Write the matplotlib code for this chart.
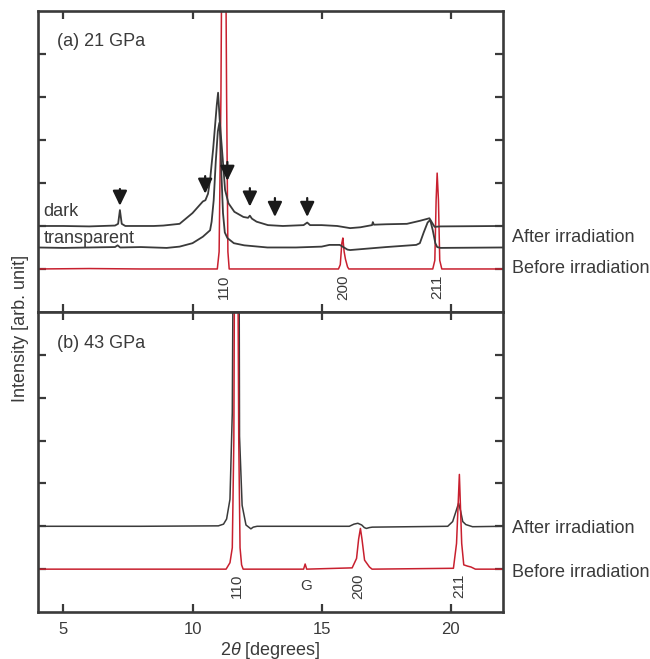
import matplotlib
matplotlib.use("Agg")
import matplotlib.pyplot as plt

plt.rcParams["font.family"] = ["Liberation Sans", "DejaVu Sans"]
plt.rcParams["mathtext.fontset"] = "custom"
plt.rcParams["mathtext.it"] = "Liberation Sans:italic"
plt.rcParams["mathtext.rm"] = "Liberation Sans"

INK = "#3a3a3a"
RED = "#c8202f"

# --- (a) 21 GPa: traces (2theta, offset intensity) ---
a_before_x = [4.0, 6.0, 8.0, 10.96, 11.03, 11.1, 11.14, 11.28, 11.32, 11.37, 11.42,
              15.65, 15.72, 15.78, 15.82, 15.87, 15.92, 16.0, 16.05,
              19.3, 19.38, 19.43, 19.47, 19.52, 19.57, 19.65, 22.0]
a_before_y = [0.0, 0.01, 0.0, 0.0, 0.4, 4.0, 8.0, 8.0, 4.0, 0.4, 0.0,
              0.0, 0.1, 0.6, 0.72, 0.4, 0.23, 0.05, 0.0,
              0.0, 0.2, 1.6, 2.23, 1.6, 0.2, 0.0, 0.0]

a_dark_x = [4.0, 5.0, 6.0, 7.0, 7.12, 7.19, 7.26, 7.4, 8.5, 8.87, 9.5, 10.0, 10.4,
            10.5, 10.6, 10.68, 10.8, 10.94, 10.99, 11.06, 11.17, 11.26, 11.39,
            11.62, 11.97, 12.15, 12.22, 12.3, 12.48, 12.92, 13.5, 14.3, 14.44,
            14.55, 15.0, 15.6, 16.1, 16.5, 16.95, 16.98, 17.02, 17.5, 18.3, 18.8,
            19.05, 19.17, 19.25, 19.37, 19.6, 22.0]
a_dark_y = [1.0, 1.0, 0.99, 1.01, 1.05, 1.37, 1.05, 1.0, 1.0, 1.01, 1.05, 1.3, 1.57,
            1.6, 1.75, 2.07, 2.8, 3.82, 4.1, 3.4, 2.56, 1.84, 1.53,
            1.33, 1.21, 1.19, 1.24, 1.17, 1.1, 1.02, 1.0, 1.02, 1.08,
            1.02, 1.02, 1.0, 0.95, 0.97, 1.02, 1.09, 1.03, 1.04, 1.05, 1.12,
            1.16, 1.18, 1.1, 0.98, 0.99, 1.0]

a_trans_x = [4.0, 5.0, 6.0, 7.0, 7.1, 7.2, 8.0, 9.0, 9.5, 10.0, 10.4, 10.68, 10.74,
             10.82, 10.9, 10.98, 11.04, 11.08, 11.12, 11.18, 11.25, 11.35, 11.6,
             12.0, 12.9, 14.0, 15.0, 15.3, 15.7, 16.0, 16.1, 16.5, 17.5, 18.66,
             18.8, 18.95, 19.1, 19.2, 19.3, 19.4, 19.47, 19.6, 22.0]
a_trans_y = [0.5, 0.49, 0.5, 0.51, 0.55, 0.5, 0.51, 0.49, 0.52, 0.6, 0.75, 0.9, 1.1,
             1.6, 2.5, 3.2, 3.4, 3.0, 2.2, 1.3, 0.85, 0.72, 0.6,
             0.55, 0.5, 0.5, 0.52, 0.56, 0.56, 0.45, 0.44, 0.46, 0.51, 0.56,
             0.6, 0.85, 1.08, 1.14, 0.9, 0.6, 0.51, 0.49, 0.5]

# arrows over the dark trace: position, tail, tip
arrow_x = [7.19, 10.49, 11.35, 12.22, 13.19, 14.44]
arrow_top = [1.86, 2.16, 2.49, 1.88, 1.65, 1.65]
arrow_tip = [1.47, 1.75, 2.05, 1.45, 1.21, 1.21]

a_hkl = ["110", "200", "211"]
a_hkl_x = [11.2, 15.82, 19.47]

# --- (b) 43 GPa ---
b_before_x = [4.0, 8.0, 11.3, 11.45, 11.54, 11.6, 11.63, 11.75, 11.79, 11.84, 11.9,
              11.96, 14.3, 14.36, 14.42, 16.18, 16.35, 16.43, 16.5, 16.56, 16.66,
              16.85, 16.95, 20.1, 20.22, 20.33, 20.42, 20.5, 20.65, 20.78, 20.95, 22.0]
b_before_y = [0.0, 0.0, 0.0, 0.15, 0.5, 3.0, 8.0, 8.0, 3.0, 0.5, 0.1,
              0.0, 0.0, 0.12, 0.0, 0.03, 0.25, 0.7, 0.95, 0.7, 0.21,
              0.05, 0.0, 0.02, 0.6, 2.21, 0.6, 0.1, 0.07, 0.05, 0.0, 0.0]

b_after_x = [4.0, 8.0, 11.0, 11.2, 11.32, 11.45, 11.54, 11.58, 11.8, 11.82, 11.92,
             12.07, 12.26, 12.35, 12.5, 16.07, 16.25, 16.4, 16.55, 16.65, 16.73,
             16.85, 16.96, 19.88, 20.07, 20.2, 20.3, 20.38, 20.46, 20.58, 20.84, 22.0]
b_after_y = [1.0, 1.0, 1.01, 1.05, 1.17, 1.63, 3.65, 8.0, 8.0, 3.1, 1.49,
             1.03, 0.94, 0.98, 1.0, 1.0, 1.05, 1.07, 1.03, 0.97, 0.95,
             0.97, 0.98, 1.0, 1.11, 1.35, 1.54, 1.35, 1.11, 1.04, 0.99, 1.0]

b_hkl = ["110", "G", "200", "211"]
b_hkl_x = [11.7, 14.4, 16.42, 20.33]
b_hkl_rot = [90, 0, 90, 90]

xticks = [5, 10, 15, 20]


def style_axis(ax):
    ax.set_xlim(4, 22)
    ax.set_ylim(-1, 6)
    ax.set_xticks(xticks)
    ax.set_yticks(range(0, 6))
    ax.set_yticklabels([])
    ax.tick_params(axis="both", direction="in", length=6, width=1.6, color=INK,
                   top=True, right=True, labelsize=12, labelcolor=INK, pad=7)
    for sp in ax.spines.values():
        sp.set_linewidth(1.9)
        sp.set_color(INK)


fig = plt.figure(figsize=(6.5, 6.59), dpi=100)
ax1 = fig.add_axes([0.0577, 0.5266, 0.7154, 0.4567])
ax2 = fig.add_axes([0.0577, 0.0713, 0.7154, 0.4553])

# --- panel (a) ---
ax1.plot(a_before_x, a_before_y, color=RED, lw=1.1)
ax1.plot(a_trans_x, a_trans_y, color=INK, lw=1.3)
ax1.plot(a_dark_x, a_dark_y, color=INK, lw=1.3)
for x, t, b in zip(arrow_x, arrow_top, arrow_tip):
    ax1.annotate("", xy=(x, b), xytext=(x, t),
                 arrowprops=dict(arrowstyle="-|>,head_length=0.75,head_width=0.36",
                                 mutation_scale=12, color="#1a1a1a", lw=1.6,
                                 shrinkA=0, shrinkB=0))
for lab, x in zip(a_hkl, a_hkl_x):
    ax1.text(x, -0.42, lab, rotation=90, ha="center", va="center", fontsize=11, color=INK)
ax1.text(4.77, 5.28, "(a) 21 GPa", fontsize=13, color=INK, va="center")
ax1.text(4.23, 1.33, "dark", fontsize=13, color=INK, va="center")
ax1.text(4.23, 0.72, "transparent", fontsize=13, color=INK, va="center")
ax1.text(22.37, 0.74, "After irradiation", fontsize=13, color=INK, va="center", clip_on=False)
ax1.text(22.37, 0.02, "Before irradiation", fontsize=13, color=INK, va="center", clip_on=False)
style_axis(ax1)
ax1.set_xticklabels([])

# --- panel (b) ---
ax2.plot(b_after_x, b_after_y, color=INK, lw=1.1)
ax2.plot(b_before_x, b_before_y, color=RED, lw=1.1)
for lab, x, r in zip(b_hkl, b_hkl_x, b_hkl_rot):
    ax2.text(x, -0.4, lab, rotation=r, ha="center", va="center", fontsize=11, color=INK)
ax2.text(4.77, 5.26, "(b) 43 GPa", fontsize=13, color=INK, va="center")
ax2.text(22.37, 0.95, "After irradiation", fontsize=13, color=INK, va="center", clip_on=False)
ax2.text(22.37, -0.07, "Before irradiation", fontsize=13, color=INK, va="center", clip_on=False)
style_axis(ax2)
ax2.set_xlabel(r"2$\it{\theta}$ [degrees]", fontsize=13, color=INK, labelpad=2)

fig.text(0.031, 1 - 328 / 659, "Intensity [arb. unit]", rotation=90, fontsize=13,
         color=INK, ha="center", va="center")

fig.savefig("out.png", dpi=100)
